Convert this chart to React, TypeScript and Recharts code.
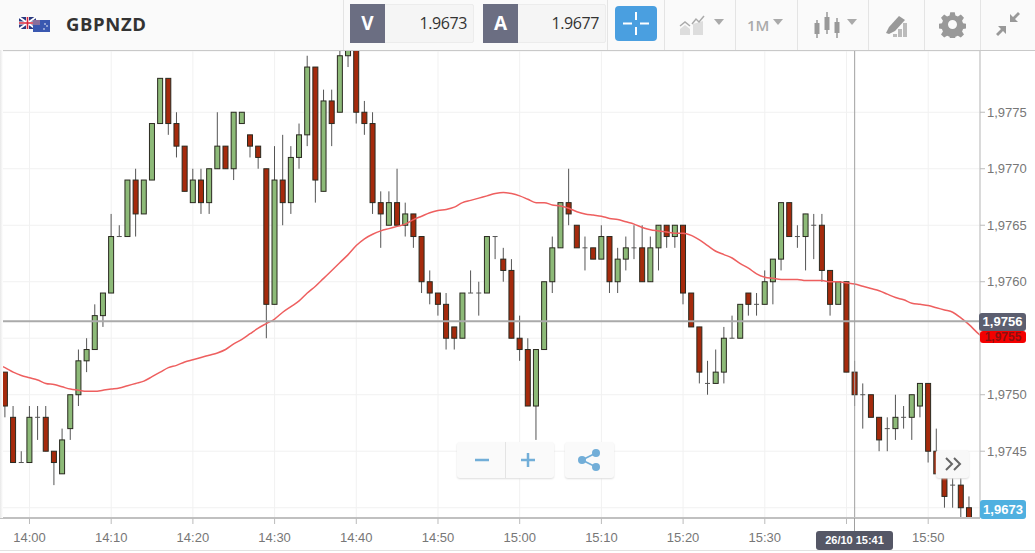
import { ComposedChart, Bar, Line, XAxis, YAxis, CartesianGrid, ReferenceLine } from "recharts";

// minutes from 14:00, one candle per minute
const minutes = [
  -3, -2, -1, 0, 1, 2, 3, 4, 5, 6, 7, 8, 9, 10, 11, 12, 13, 14, 15, 16,
  17, 18, 19, 20, 21, 22, 23, 24, 25, 26, 27, 28, 29, 30, 31, 32, 33, 34, 35, 36,
  37, 38, 39, 40, 41, 42, 43, 44, 45, 46, 47, 48, 49, 50, 51, 52, 53, 54, 55, 56,
  57, 58, 59, 60, 61, 62, 63, 64, 65, 66, 67, 68, 69, 70, 71, 72, 73, 74, 75, 76,
  77, 78, 79, 80, 81, 82, 83, 84, 85, 86, 87, 88, 89, 90, 91, 92, 93, 94, 95, 96,
  97, 98, 99, 100, 101, 102, 103, 104, 105, 106, 107, 108, 109, 110, 111, 112, 113, 114, 115,
];

const opens = [
  1.9752, 1.9748, 1.9744, 1.9744, 1.9748, 1.9748, 1.9745, 1.9743, 1.9747, 1.975, 1.9753, 1.9754, 1.9757, 1.9759, 1.9764, 1.9764, 1.9769, 1.9766, 1.9769, 1.9774,
  1.9778, 1.9774, 1.9772, 1.9767, 1.9769, 1.9767, 1.977, 1.9772, 1.977, 1.9774, 1.9773, 1.9772, 1.977, 1.9758, 1.9769, 1.9767, 1.9771, 1.9773, 1.9779, 1.9768,
  1.9776, 1.9775, 1.978, 1.9782, 1.9775, 1.9774, 1.9767, 1.9765, 1.9767, 1.9765, 1.9766, 1.9764, 1.976, 1.9759, 1.9758, 1.9756, 1.9755, 1.9759, 1.9759, 1.9759,
  1.9764, 1.9762, 1.9761, 1.9755, 1.9754, 1.9749, 1.9754, 1.976, 1.9763, 1.9767, 1.9765, 1.9763, 1.9763, 1.9762, 1.9764, 1.976, 1.9762, 1.9763, 1.9763, 1.976,
  1.9763, 1.9765, 1.9764, 1.9765, 1.9759, 1.9756, 1.9751, 1.9751, 1.9752, 1.9755, 1.9755, 1.9759, 1.9758, 1.9758, 1.976, 1.9762, 1.9767, 1.9764, 1.9764, 1.9765,
  1.9765, 1.9761, 1.9758, 1.976, 1.9752, 1.975, 1.975, 1.9748, 1.9747, 1.9747, 1.9748, 1.9748, 1.9749, 1.9751, 1.9745, 1.9743, 1.9742, 1.9742, 1.974,
];

const closes = [
  1.9749, 1.9744, 1.9744, 1.9748, 1.9748, 1.9745, 1.9744, 1.9746, 1.975, 1.9753, 1.9754, 1.9757, 1.9759, 1.9764, 1.9764, 1.9769, 1.9766, 1.9769, 1.9774, 1.9778,
  1.9774, 1.9772, 1.9768, 1.9769, 1.9767, 1.977, 1.9772, 1.977, 1.9775, 1.9775, 1.9772, 1.9771, 1.9758, 1.9769, 1.9767, 1.9771, 1.9773, 1.9779, 1.9769, 1.9776,
  1.9774, 1.978, 1.9781, 1.9775, 1.9774, 1.9767, 1.9766, 1.9767, 1.9765, 1.9766, 1.9764, 1.976, 1.9759, 1.9758, 1.9755, 1.9755, 1.9759, 1.9759, 1.9759, 1.9764,
  1.9764, 1.9761, 1.9755, 1.9754, 1.9749, 1.9754, 1.976, 1.9763, 1.9767, 1.9766, 1.9763, 1.9763, 1.9762, 1.9764, 1.976, 1.9762, 1.9763, 1.9763, 1.976, 1.9763,
  1.9765, 1.9764, 1.9765, 1.9759, 1.9756, 1.9752, 1.9751, 1.9752, 1.9755, 1.9755, 1.9758, 1.9758, 1.9758, 1.976, 1.9762, 1.9767, 1.9764, 1.9764, 1.9766, 1.9765,
  1.9761, 1.9758, 1.976, 1.9752, 1.975, 1.975, 1.9748, 1.9746, 1.9747, 1.9748, 1.9748, 1.975, 1.9751, 1.9745, 1.9743, 1.9741, 1.9742, 1.974, 1.9739,
];

const highs = [
  1.9752, 1.9749, 1.9745, 1.9749, 1.9749, 1.9749, 1.9745, 1.9747, 1.975, 1.9754, 1.9755, 1.9758, 1.9759, 1.9766, 1.9765, 1.9769, 1.977, 1.9769, 1.9774, 1.9778,
  1.9778, 1.9775, 1.9772, 1.977, 1.977, 1.977, 1.9775, 1.9772, 1.9775, 1.9775, 1.9773, 1.9772, 1.977, 1.9772, 1.9773, 1.9772, 1.9774, 1.978, 1.9779, 1.9777,
  1.9777, 1.9781, 1.9781, 1.9782, 1.9776, 1.9775, 1.9768, 1.9768, 1.977, 1.9767, 1.9766, 1.9764, 1.9761, 1.9759, 1.9759, 1.9756, 1.9759, 1.9761, 1.976, 1.9764,
  1.9764, 1.9763, 1.9762, 1.9757, 1.9755, 1.9754, 1.976, 1.9764, 1.9767, 1.977, 1.9765, 1.9764, 1.9763, 1.9765, 1.9764, 1.9763, 1.9764, 1.9765, 1.9765, 1.9764,
  1.9765, 1.9765, 1.9765, 1.9765, 1.9759, 1.9756, 1.9753, 1.9754, 1.9756, 1.9757, 1.9758, 1.9759, 1.9759, 1.9761, 1.9762, 1.9767, 1.9767, 1.9765, 1.9766, 1.9766,
  1.9766, 1.9761, 1.976, 1.976, 1.9753, 1.9751, 1.975, 1.9748, 1.9748, 1.975, 1.9749, 1.975, 1.9751, 1.9751, 1.9747, 1.9743, 1.9744, 1.9743, 1.9741,
];

const lows = [
  1.9748, 1.9744, 1.9744, 1.9744, 1.9746, 1.9745, 1.9742, 1.9743, 1.9746, 1.9749, 1.9752, 1.9754, 1.9756, 1.9759, 1.9764, 1.9764, 1.9764, 1.9766, 1.9769, 1.9774,
  1.9773, 1.9771, 1.9768, 1.9767, 1.9766, 1.9766, 1.977, 1.977, 1.9769, 1.9774, 1.9771, 1.977, 1.9755, 1.9758, 1.9765, 1.9766, 1.977, 1.9772, 1.9767, 1.9768,
  1.9772, 1.9775, 1.9779, 1.9774, 1.9773, 1.9766, 1.9763, 1.9765, 1.9765, 1.9764, 1.9763, 1.9759, 1.9758, 1.9757, 1.9754, 1.9754, 1.9755, 1.9759, 1.9757, 1.9759,
  1.9762, 1.976, 1.9755, 1.9753, 1.9749, 1.9746, 1.9754, 1.9759, 1.9763, 1.9765, 1.9763, 1.9761, 1.9762, 1.9762, 1.9759, 1.9759, 1.9761, 1.9762, 1.976, 1.976,
  1.9761, 1.9763, 1.9763, 1.9758, 1.9756, 1.9751, 1.975, 1.9751, 1.9751, 1.9755, 1.9755, 1.9757, 1.9757, 1.9758, 1.9758, 1.9761, 1.9764, 1.9763, 1.9761, 1.9762,
  1.976, 1.9757, 1.9758, 1.9752, 1.9749, 1.9747, 1.9748, 1.9745, 1.9745, 1.9746, 1.9747, 1.9746, 1.9748, 1.9744, 1.9743, 1.974, 1.974, 1.9739, 1.9739,
];

// moving average, one value per candle
const maValues = [
  1.97524, 1.9752, 1.97517, 1.97515, 1.97513, 1.9751, 1.97509, 1.97507, 1.97505, 1.97504, 1.97503, 1.97503, 1.97504, 1.97505, 1.97506, 1.97508, 1.9751, 1.97512, 1.97516, 1.9752,
  1.97524, 1.97526, 1.97529, 1.97531, 1.97533, 1.97535, 1.97537, 1.9754, 1.97545, 1.97549, 1.97554, 1.97559, 1.97563, 1.97567, 1.97573, 1.97578, 1.97583, 1.9759, 1.97596, 1.97603,
  1.9761, 1.97617, 1.97624, 1.97632, 1.97638, 1.97642, 1.97645, 1.97647, 1.97649, 1.97651, 1.97655, 1.97658, 1.97661, 1.97663, 1.97664, 1.97666, 1.9767, 1.97672, 1.97674, 1.97676,
  1.97678, 1.97679, 1.97678, 1.97676, 1.97673, 1.9767, 1.9767, 1.97668, 1.97667, 1.97665, 1.97662, 1.9766, 1.97659, 1.97658, 1.97656, 1.97655, 1.97653, 1.97651, 1.97648, 1.97646,
  1.97645, 1.97644, 1.97643, 1.97643, 1.97641, 1.97637, 1.97632, 1.97627, 1.97624, 1.97621, 1.97616, 1.97612, 1.97607, 1.97604, 1.97603, 1.97602, 1.97602, 1.97602, 1.97601, 1.97601,
  1.97601, 1.976, 1.976, 1.97599, 1.97598, 1.97596, 1.97594, 1.97592, 1.97589, 1.97586, 1.97584, 1.97581, 1.9758, 1.97579, 1.97577, 1.97575, 1.97573, 1.97568, 1.97562,
];

// the average runs on past both ends of the candles
const maEdgeMinutes = [-4, 116, 117];
const maEdgeValues = [1.97527, 1.97555, 1.97549];

const priceTicks = [1.974, 1.9745, 1.975, 1.9755, 1.976, 1.9765, 1.977, 1.9775];
const timeTicks = [0, 10, 20, 30, 40, 50, 60, 70, 80, 90, 100, 110];
// these labels sit under a price or date flag in the chart
const hiddenPriceLabels = [1.974, 1.9755];
const hiddenTimeLabels = [100];
const crosshairPrice = 1.97565;
const crosshairMinute = 101;

const candles = [
  { t: maEdgeMinutes[0], ma: maEdgeValues[0] },
  ...minutes.map((t, i) => ({ t, ma: maValues[i], open: opens[i], close: closes[i], range: [lows[i], highs[i]] })),
  { t: maEdgeMinutes[1], ma: maEdgeValues[1] },
  { t: maEdgeMinutes[2], ma: maEdgeValues[2] },
];

const timeLabel = (t: number) => {
  if (hiddenTimeLabels.includes(t)) return "";
  const total = 14 * 60 + t;
  return `${Math.floor(total / 60)}:${String(total % 60).padStart(2, "0")}`;
};

const priceLabel = (v: number) => (hiddenPriceLabels.includes(v) ? "" : v.toFixed(4).replace(".", ","));

const Candle = ({ x, y, width, height, payload }: any) => {
  if (!payload || !payload.range) return null;
  const [low, high] = payload.range;
  const perUnit = height / (high - low);
  const top = y + (high - Math.max(payload.open, payload.close)) * perUnit;
  const bottom = y + (high - Math.min(payload.open, payload.close)) * perUnit;
  const mid = x + width / 2;
  const up = payload.close >= payload.open;
  if (payload.open === payload.close) {
    return (
      <g stroke="#555" strokeWidth={1}>
        <line x1={mid} x2={mid} y1={y} y2={y + height} />
        <line x1={mid - 2.5} x2={mid + 2.5} y1={top} y2={top} />
      </g>
    );
  }
  return (
    <g>
      <line x1={mid} x2={mid} y1={y} y2={y + height} stroke="#555" strokeWidth={1} />
      <rect x={x + 0.5} y={top} width={width - 1} height={bottom - top} fill={up ? "#8dba78" : "#a52a0c"} stroke="#2a2a20" strokeWidth={1} />
    </g>
  );
};

const font = "'Open Sans', sans-serif";

const Caret = ({ x, y }: { x: number; y: number }) => (
  <div style={{ position: "absolute", left: x, top: y, width: 0, height: 0, borderLeft: "5px solid transparent", borderRight: "5px solid transparent", borderTop: "6px solid #aaa" }} />
);

const Sep = ({ x }: { x: number }) => (
  <div style={{ position: "absolute", left: x, top: 0, width: 1, height: 50, background: "#e4e4e4" }} />
);

const Quote = ({ x, label, value, right }: any) => (
  <div style={{ position: "absolute", left: x, top: 4, width: right - x, height: 39, background: "#f5f5f5", border: "1px solid #ececec", boxSizing: "border-box", borderRadius: 2 }}>
    <div style={{ position: "absolute", left: -1, top: -1, width: 35, height: 39, background: "#6b6e82", color: "#fff", fontFamily: font, fontWeight: 700, fontSize: 19, lineHeight: "39px", textAlign: "center" }}>{label}</div>
    <div style={{ position: "absolute", right: 6, top: 0, color: "#333", fontFamily: font, fontSize: 16, lineHeight: "37px", letterSpacing: -0.4 }}>{value}</div>
  </div>
);

const Header = () => (
  <div style={{ position: "absolute", left: 0, top: 0, width: 1035, height: 50, background: "#fafafa", borderBottom: "1px solid #c9c9c9" }}>
    <svg style={{ position: "absolute", left: 18, top: 15 }} width={34} height={19}>
      <rect x={1} y={2} width={17} height={12} fill="#2b3a80" />
      <path d="M1 2L18 14M18 2L1 14" stroke="#fff" strokeWidth={2} />
      <path d="M9.5 2V14M1 8H18" stroke="#fff" strokeWidth={3} />
      <path d="M9.5 2V14M1 8H18" stroke="#d8283c" strokeWidth={1.6} />
      <rect x={15} y={5} width={17} height={12} fill="#3a58b0" />
      <rect x={15} y={5} width={7} height={5} fill="#8a6f9c" />
      <circle cx={27} cy={9} r={0.8} fill="#fff" />
      <circle cx={29} cy={11} r={0.8} fill="#fff" />
      <circle cx={26} cy={14} r={0.8} fill="#fff" />
    </svg>
    <div style={{ position: "absolute", left: 66, top: 10, color: "#333", fontFamily: font, fontWeight: 700, fontSize: 18.5, lineHeight: "28px", letterSpacing: 0.6 }}>GBPNZD</div>
    <Sep x={343} />
    <Sep x={607} />
    <Sep x={664} />
    <Sep x={735} />
    <Sep x={797} />
    <Sep x={868} />
    <Sep x={924} />
    <Sep x={980} />
    <Quote x={350} right={474} label="V" value="1.9673" />
    <Quote x={483} right={606} label="A" value="1.9677" />
    <div style={{ position: "absolute", left: 615, top: 6, width: 42, height: 35, background: "#4a9fe0", borderRadius: 4 }}>
      <svg width={42} height={35}>
        <path d="M21 6V14M21 21V29M8 17.5H17M25 17.5H34" stroke="#fff" strokeWidth={2} />
      </svg>
    </div>
    <svg style={{ position: "absolute", left: 678, top: 14 }} width={30} height={24}>
      <path d="M2 21V15L7 11L12 15V21Z" fill="#ddd" />
      <path d="M15 21V10L25 7V21Z" fill="#ddd" />
      <path d="M2 12L7 8L12 12M14 10L18 5L21 8L26 2" stroke="#aaa" strokeWidth={1.5} fill="none" />
    </svg>
    <Caret x={714} y={19} />
    <div style={{ position: "absolute", left: 747, top: 12, color: "#aaa", fontFamily: font, fontWeight: 600, fontSize: 15, lineHeight: "26px" }}>1M</div>
    <Caret x={773} y={19} />
    <svg style={{ position: "absolute", left: 813, top: 10 }} width={30} height={30}>
      <path d="M4 10V28M14 2V24M24 8V28" stroke="#999" strokeWidth={1.5} />
      <rect x={1.5} y={13} width={5} height={11} fill="#999" />
      <rect x={11.5} y={7} width={5} height={13} fill="#999" />
      <rect x={21.5} y={12} width={5} height={11} fill="#999" />
    </svg>
    <Caret x={847} y={19} />
    <svg style={{ position: "absolute", left: 884, top: 14 }} width={26} height={24}>
      <path d="M2 19L5 13L15 2L21 6L11 17L5 20Z" fill="#999" />
      <path d="M9 23H13V20H9ZM14 23H18V15H14ZM19 23H23V9H19Z" fill="#bbb" />
    </svg>
    <svg style={{ position: "absolute", left: 939, top: 11 }} width={27} height={27} viewBox="0 0 24 24">
      <path fill="#999" fillRule="evenodd" d="M10 1h4l.6 3 2.2.9 2.6-1.7 2.8 2.8-1.7 2.6.9 2.2 3 .6v4l-3 .6-.9 2.2 1.7 2.6-2.8 2.8-2.6-1.7-2.2.9-.6 3h-4l-.6-3-2.2-.9-2.6 1.7-2.8-2.8 1.7-2.6-.9-2.2-3-.6v-4l3-.6.9-2.2-1.7-2.6 2.8-2.8 2.6 1.7 2.2-.9zM12 8a4 4 0 100 8 4 4 0 000-8z" />
    </svg>
    <svg style={{ position: "absolute", left: 995, top: 11 }} width={26} height={26}>
      <path d="M15 11V3L18 6L23 1L25 3L20 8L23 11Z M11 15V23L8 20L3 25L1 23L6 18L3 15Z" fill="#999" />
    </svg>
  </div>
);

const Flag = ({ x, y, w, h, bg, color, text, size = 13 }: any) => (
  <div style={{ position: "absolute", left: x, top: y, width: w, height: h, background: bg, color, borderRadius: 3, textAlign: "center", fontFamily: "'Liberation Sans', sans-serif", fontSize: size, fontWeight: 700, lineHeight: `${h}px` }}>{text}</div>
);

const App = () => (
  <div style={{ position: "absolute", left: 0, top: 0, width: 1035, height: 553, background: "#fff", overflow: "hidden" }}>
    <ComposedChart width={1035} height={553} data={candles} margin={{ top: 51, right: 0, bottom: 0, left: 0 }}>
      <CartesianGrid stroke="#f1f1f1" strokeWidth={1} />
      <XAxis
        dataKey="t"
        type="number"
        domain={[-3.61, 116.34]}
        ticks={timeTicks}
        tickFormatter={timeLabel}
        allowDataOverflow
        height={35}
        interval={0}
        axisLine={{ stroke: "#c0c0c0", strokeWidth: 2 }}
        tickLine={{ stroke: "#bbb" }}
        tickSize={6}
        tickMargin={9}
        tick={{ fill: "#777", fontSize: 13, fontFamily: "'Liberation Sans', sans-serif" }}
      />
      <YAxis
        orientation="right"
        type="number"
        width={55}
        domain={[1.973909, 1.978042]}
        ticks={priceTicks}
        tickFormatter={priceLabel}
        allowDataOverflow
        interval={0}
        axisLine={{ stroke: "#bbb", strokeWidth: 1 }}
        tickLine={{ stroke: "#bbb" }}
        tickSize={5}
        tick={{ fill: "#777", fontSize: 13, fontFamily: "'Liberation Sans', sans-serif" }}
      />
      <Bar dataKey="range" barSize={6} shape={<Candle />} isAnimationActive={false} />
      <Line dataKey="ma" type="monotone" stroke="#ee5f5f" strokeWidth={1.5} dot={false} isAnimationActive={false} />
      <ReferenceLine y={crosshairPrice} stroke="#aaa" strokeWidth={2} />
      <ReferenceLine x={crosshairMinute} stroke="#a0a0a0" strokeWidth={1} />
    </ComposedChart>

    <Header />

    <div style={{ position: "absolute", left: 854, top: 518, width: 1, height: 14, background: "#a0a0a0" }} />
    <Flag x={980} y={331} w={46} h={12} bg="#f40000" color="#8a1010" text="1,9755" size={12} />
    <Flag x={979} y={313} w={47} h={18} bg="#5c5f70" color="#fff" text="1,9756" />
    <Flag x={980} y={500} w={46} h={19} bg="#4fb0e0" color="#fff" text="1,9673" />
    <Flag x={816} y={531} w={77} h={19} bg="#555766" color="#fff" text="26/10 15:41" size={11} />

    <div style={{ position: "absolute", left: 0, top: 550, width: 1035, height: 1, background: "#e2e2e2" }} />
    <div style={{ position: "absolute", left: 0, top: 50, width: 3, height: 468, background: "linear-gradient(to right, #e8e8e8, #fff)" }} />

    <div style={{ position: "absolute", left: 457, top: 442, width: 97, height: 36, background: "#fafafa", borderRadius: 3, boxShadow: "0 1px 2px #ddd" }}>
      <div style={{ position: "absolute", left: 48, top: 0, width: 1, height: 36, background: "#e4e4e4" }} />
      <svg width={97} height={36}>
        <path d="M18 18H32M64 18H78M71 11V25" stroke="#72aed8" strokeWidth={2.5} />
      </svg>
    </div>
    <div style={{ position: "absolute", left: 565, top: 442, width: 49, height: 36, background: "#fafafa", borderRadius: 3, boxShadow: "0 1px 2px #ddd" }}>
      <svg width={49} height={36}>
        <path d="M17 18L31 11M17 18L31 25" stroke="#72aed8" strokeWidth={1.8} />
        <circle cx={17} cy={18} r={4} fill="#72aed8" />
        <circle cx={31} cy={11} r={4} fill="#72aed8" />
        <circle cx={31} cy={25} r={4} fill="#72aed8" />
      </svg>
    </div>
    <div style={{ position: "absolute", left: 936, top: 450, width: 33, height: 28, background: "#f8f8f8", borderRadius: 3, boxShadow: "0 1px 2px #ddd" }}>
      <svg width={33} height={28}>
        <path d="M10 8L16 14L10 20M18 8L24 14L18 20" stroke="#666" strokeWidth={2} fill="none" />
      </svg>
    </div>
  </div>
);

export default App;
